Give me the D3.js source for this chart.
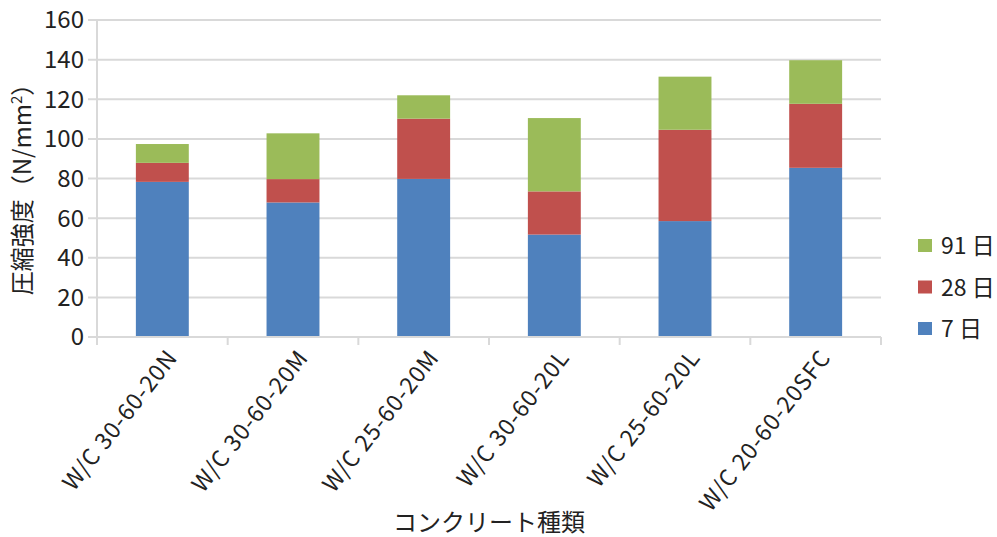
<!DOCTYPE html>
<html>
<head>
<meta charset="utf-8">
<script src="https://cdn.jsdelivr.net/npm/d3@7"></script>
<style>
  body { margin: 0; background: #fff; }
  svg { font-family: "Noto Sans CJK JP", "Noto Sans", sans-serif; }
</style>
</head>
<body>
<svg id="chart" width="997" height="537"></svg>
<script>
// categories and series (stacked increments, N/mm2)
var categories = ["W/C 30-60-20N", "W/C 30-60-20M", "W/C 25-60-20M", "W/C 30-60-20L", "W/C 25-60-20L", "W/C 20-60-20SFC"];
var day7 = [78.3, 67.9, 79.8, 51.7, 58.5, 85.4];
var day28 = [9.6, 11.8, 30.4, 21.8, 46.1, 32.3];
var day91 = [9.5, 23.1, 11.8, 37.0, 26.8, 22.0];
var seriesNames = ["7 日", "28 日", "91 日"];
var colors = ["#4F81BD", "#C0504D", "#9BBB59"];
var yTicks = [0, 20, 40, 60, 80, 100, 120, 140, 160];

(function () {
    var rows = categories.map(function (c, i) {
        return { cat: c, s0: day7[i], s1: day28[i], s2: day91[i] };
    });

    var svg = d3.select("#chart");
    var mLeft = 97, mRight = 881, mTop = 20, mBottom = 337;

    var x = d3.scaleBand().domain(categories).range([mLeft, mRight]).paddingInner(0.595).paddingOuter(0.2975);
    var y = d3.scaleLinear().domain([0, 160]).range([mBottom, mTop]);

    // gridlines
    svg.append("g")
        .selectAll("line")
        .data(yTicks)
        .join("line")
        .attr("x1", mLeft - 9).attr("x2", mRight)
        .attr("y1", d => y(d)).attr("y2", d => y(d))
        .attr("stroke", "#d9d9d9")
        .attr("stroke-width", 2);

    // y axis line
    svg.append("line")
        .attr("x1", mLeft).attr("x2", mLeft)
        .attr("y1", mTop).attr("y2", mBottom)
        .attr("stroke", "#d9d9d9").attr("stroke-width", 2);

    // stacked bars
    var layers = d3.stack().keys(["s0", "s1", "s2"])(rows);

    svg.append("g")
        .selectAll("g")
        .data(layers)
        .join("g")
        .attr("fill", (d, i) => colors[i])
        .selectAll("rect")
        .data(d => d)
        .join("rect")
        .attr("x", d => x(d.data.cat))
        .attr("width", x.bandwidth())
        .attr("y", d => y(d[1]))
        .attr("height", d => y(d[0]) - y(d[1]));

    // x axis with ticks at category boundaries
    var bounds = categories.map(c => x(c) - x.step() * x.paddingInner() / 2);
    bounds[0] = mLeft;
    bounds.push(mRight);
    svg.append("line")
        .attr("x1", mLeft).attr("x2", mRight)
        .attr("y1", mBottom).attr("y2", mBottom)
        .attr("stroke", "#d9d9d9").attr("stroke-width", 2);
    svg.append("g")
        .selectAll("line")
        .data(bounds)
        .join("line")
        .attr("x1", d => d).attr("x2", d => d)
        .attr("y1", mBottom).attr("y2", mBottom + 8)
        .attr("stroke", "#d9d9d9").attr("stroke-width", 2);

    // y tick labels
    svg.append("g")
        .selectAll("text")
        .data(yTicks)
        .join("text")
        .attr("x", mLeft - 13)
        .attr("y", d => y(d))
        .attr("dy", "0.35em")
        .attr("text-anchor", "end")
        .attr("font-size", 24)
        .attr("fill", "#222")
        .text(d => d);

    // x tick labels (rotated)
    svg.append("g")
        .selectAll("text")
        .data(categories)
        .join("text")
        .attr("transform", d => "translate(" + (x(d) + x.bandwidth() / 2 + 10) + "," + (mBottom + 16) + ") rotate(-52)")
        .attr("text-anchor", "end")
        .attr("dy", "0.35em")
        .attr("font-size", 23)
        .attr("letter-spacing", 1)
        .attr("fill", "#222")
        .text(d => d);

    // axis titles
    svg.append("text")
        .attr("transform", "translate(23," + ((mTop + mBottom) / 2 + 5) + ") rotate(-90)")
        .attr("text-anchor", "middle")
        .attr("dy", "0.35em")
        .attr("font-size", 24)
        .attr("fill", "#222")
        .html("圧縮強度（N/mm<tspan dy='-9' font-size='15'>2</tspan><tspan dy='9'>）</tspan>");

    svg.append("text")
        .attr("x", (mLeft + mRight) / 2)
        .attr("y", 523)
        .attr("dy", "0.35em")
        .attr("text-anchor", "middle")
        .attr("font-size", 24)
        .attr("fill", "#222")
        .text("コンクリート種類");

    // legend (reverse order: 91, 28, 7)
    var legendItems = [2, 1, 0];
    var lg = svg.append("g")
        .selectAll("g")
        .data(legendItems)
        .join("g")
        .attr("transform", (d, i) => "translate(918," + (246 + i * 41.5) + ")");
    lg.append("rect")
        .attr("x", 0).attr("y", -7)
        .attr("width", 14).attr("height", 13)
        .attr("fill", d => colors[d]);
    lg.append("text")
        .attr("x", 23)
        .attr("dy", "0.35em")
        .attr("font-size", 23)
        .attr("fill", "#222")
        .text(d => seriesNames[d]);
})();
</script>
</body>
</html>
